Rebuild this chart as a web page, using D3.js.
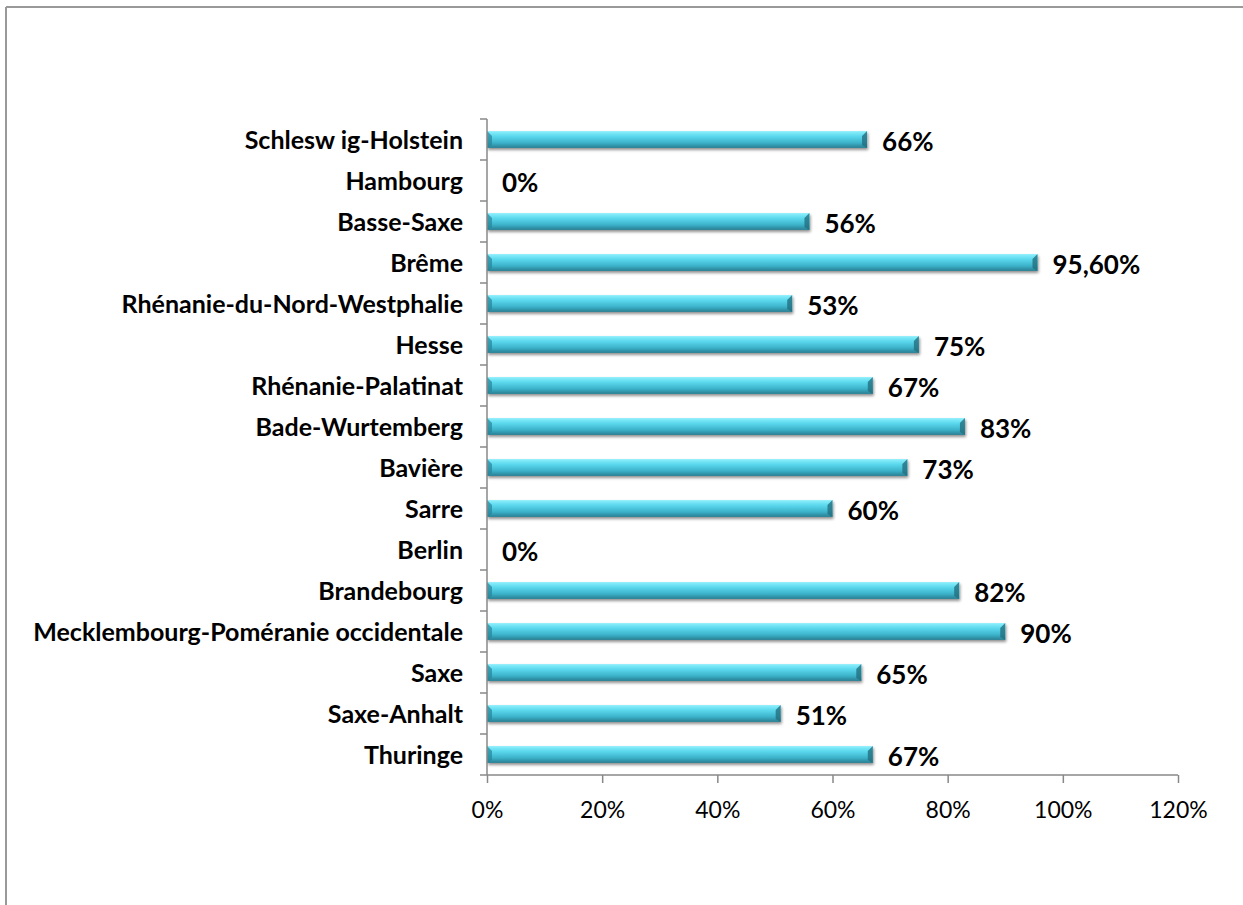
<!DOCTYPE html>
<html>
<head>
<meta charset="utf-8">
<script src="https://cdn.jsdelivr.net/npm/d3@7"></script>
<style>
  html, body { margin: 0; background: #fff; overflow: hidden; }
  svg { display: block; }
  svg text { font-family: Lato, "Open Sans", sans-serif; fill: #000; }
</style>
</head>
<body>
<div class="chart"></div>
<script>
var regions = ["Schlesw ig-Holstein", "Hambourg", "Basse-Saxe", "Brême",
  "Rhénanie-du-Nord-Westphalie", "Hesse", "Rhénanie-Palatinat", "Bade-Wurtemberg",
  "Bavière", "Sarre", "Berlin", "Brandebourg", "Mecklembourg-Poméranie occidentale",
  "Saxe", "Saxe-Anhalt", "Thuringe"];
var shares = [66, 0, 56, 95.6, 53, 75, 67, 83, 73, 60, 0, 82, 90, 65, 51, 67];
var valueLabels = ["66%", "0%", "56%", "95,60%", "53%", "75%", "67%", "83%",
  "73%", "60%", "0%", "82%", "90%", "65%", "51%", "67%"];
var xTicks = [0, 20, 40, 60, 80, 100, 120];

var data = regions.map(function(r, i) {
  return { name: r, value: shares[i], label: valueLabels[i] };
});

var W = 1243, H = 905;
var svg = d3.select(".chart").append("svg")
  .attr("width", W).attr("height", H);

// outer frame: only left and top edges show in the window
var frame = svg.append("g").attr("stroke", "#999").attr("stroke-width", 2);
frame.append("line").attr("x1", 6).attr("x2", W).attr("y1", 7).attr("y2", 7);
frame.append("line").attr("x1", 6).attr("x2", 6).attr("y1", 7).attr("y2", H);

var plotLeft = 487, plotRight = 1178, plotTop = 119, plotBottom = 775;

var x = d3.scaleLinear().domain([0, 120]).range([plotLeft, plotRight]);
var y = d3.scaleBand().domain(regions).range([plotTop, plotBottom])
  .paddingInner(0.59).paddingOuter(0.295);

var defs = svg.append("defs");
var grad = defs.append("linearGradient").attr("id", "barGrad")
  .attr("x1", 0).attr("y1", 0).attr("x2", 0).attr("y2", 1);
grad.append("stop").attr("offset", "0%").attr("stop-color", "#8ef0fc");
grad.append("stop").attr("offset", "30%").attr("stop-color", "#5cd9ee");
grad.append("stop").attr("offset", "70%").attr("stop-color", "#3cb2c9");
grad.append("stop").attr("offset", "100%").attr("stop-color", "#287e92");

var shadow = defs.append("filter").attr("id", "shadow")
  .attr("x", "-5%").attr("y", "-50%").attr("width", "110%").attr("height", "200%");
shadow.append("feGaussianBlur").attr("in", "SourceAlpha").attr("stdDeviation", 1.5);
shadow.append("feOffset").attr("dx", 1).attr("dy", 2).attr("result", "off");
shadow.append("feComponentTransfer").append("feFuncA").attr("type", "linear").attr("slope", 0.45);
var merge = shadow.append("feMerge");
merge.append("feMergeNode");
merge.append("feMergeNode").attr("in", "SourceGraphic");

// bars
var bars = svg.append("g").selectAll("g.bar")
  .data(data.filter(function(d) { return d.value > 0; }))
  .enter().append("g").attr("class", "bar");

bars.append("rect")
  .attr("x", x(0))
  .attr("y", function(d) { return y(d.name); })
  .attr("width", function(d) { return x(d.value) - x(0); })
  .attr("height", y.bandwidth())
  .attr("fill", "url(#barGrad)")
  .attr("filter", "url(#shadow)");

// bevelled ends
bars.append("path")
  .attr("d", function(d) {
    var x1 = x(d.value), y0 = y(d.name), h = y.bandwidth();
    return "M" + x1 + "," + y0 + "L" + (x1 - 5) + "," + (y0 + 5) + "L" + (x1 - 5) + "," + (y0 + h - 3) + "L" + x1 + "," + (y0 + h) + "Z";
  })
  .attr("fill", "#236f80").attr("opacity", 0.8);
bars.append("path")
  .attr("d", function(d) {
    var x0 = x(0), y0 = y(d.name), h = y.bandwidth();
    return "M" + x0 + "," + y0 + "L" + (x0 + 5) + "," + (y0 + 5) + "L" + (x0 + 5) + "," + (y0 + h - 3) + "L" + x0 + "," + (y0 + h) + "Z";
  })
  .attr("fill", "#2a8599").attr("opacity", 0.7);

// y axis
var yAxis = svg.append("g")
  .attr("transform", "translate(" + plotLeft + ",0)");
yAxis.append("line")
  .attr("x1", 0).attr("x2", 0).attr("y1", plotTop).attr("y2", plotBottom)
  .attr("stroke", "#888").attr("stroke-width", 1.5);
yAxis.selectAll("line.tick")
  .data(d3.range(regions.length + 1))
  .enter().append("line").attr("class", "tick")
  .attr("x1", -7).attr("x2", 0)
  .attr("y1", function(i) { return plotTop + i * y.step(); })
  .attr("y2", function(i) { return plotTop + i * y.step(); })
  .attr("stroke", "#888").attr("stroke-width", 1.5);

// category labels
svg.append("g").selectAll("text")
  .data(data).enter().append("text")
  .attr("x", 463)
  .attr("y", function(d) { return y(d.name) + y.bandwidth() / 2; })
  .attr("dy", "0.36em")
  .attr("text-anchor", "end")
  .style("font-size", "25px")
  .style("font-weight", "700")
  .text(function(d) { return d.name; });

// value labels
svg.append("g").selectAll("text")
  .data(data).enter().append("text")
  .attr("x", function(d) { return x(d.value) + 15; })
  .attr("y", function(d) { return y(d.name) + y.bandwidth() / 2; })
  .attr("dy", "0.45em")
  .style("font-size", "26px")
  .style("font-weight", "700")
  .text(function(d) { return d.label; });

// x axis
var gX = svg.append("g")
  .attr("transform", "translate(0," + plotBottom + ")")
  .call(d3.axisBottom(x).tickValues(xTicks).tickSize(8).tickPadding(19)
    .tickFormat(function(d) { return d + "%"; }));
gX.select(".domain").attr("stroke", "#888").attr("stroke-width", 1.5)
  .attr("d", "M" + plotLeft + ",0H" + plotRight);
gX.selectAll(".tick line").attr("stroke", "#888").attr("stroke-width", 1.5);
gX.selectAll(".tick text")
  .style("font-family", 'Lato, "Open Sans", sans-serif')
  .style("font-size", "23px")
  .attr("fill", "#000");
</script>
</body>
</html>
